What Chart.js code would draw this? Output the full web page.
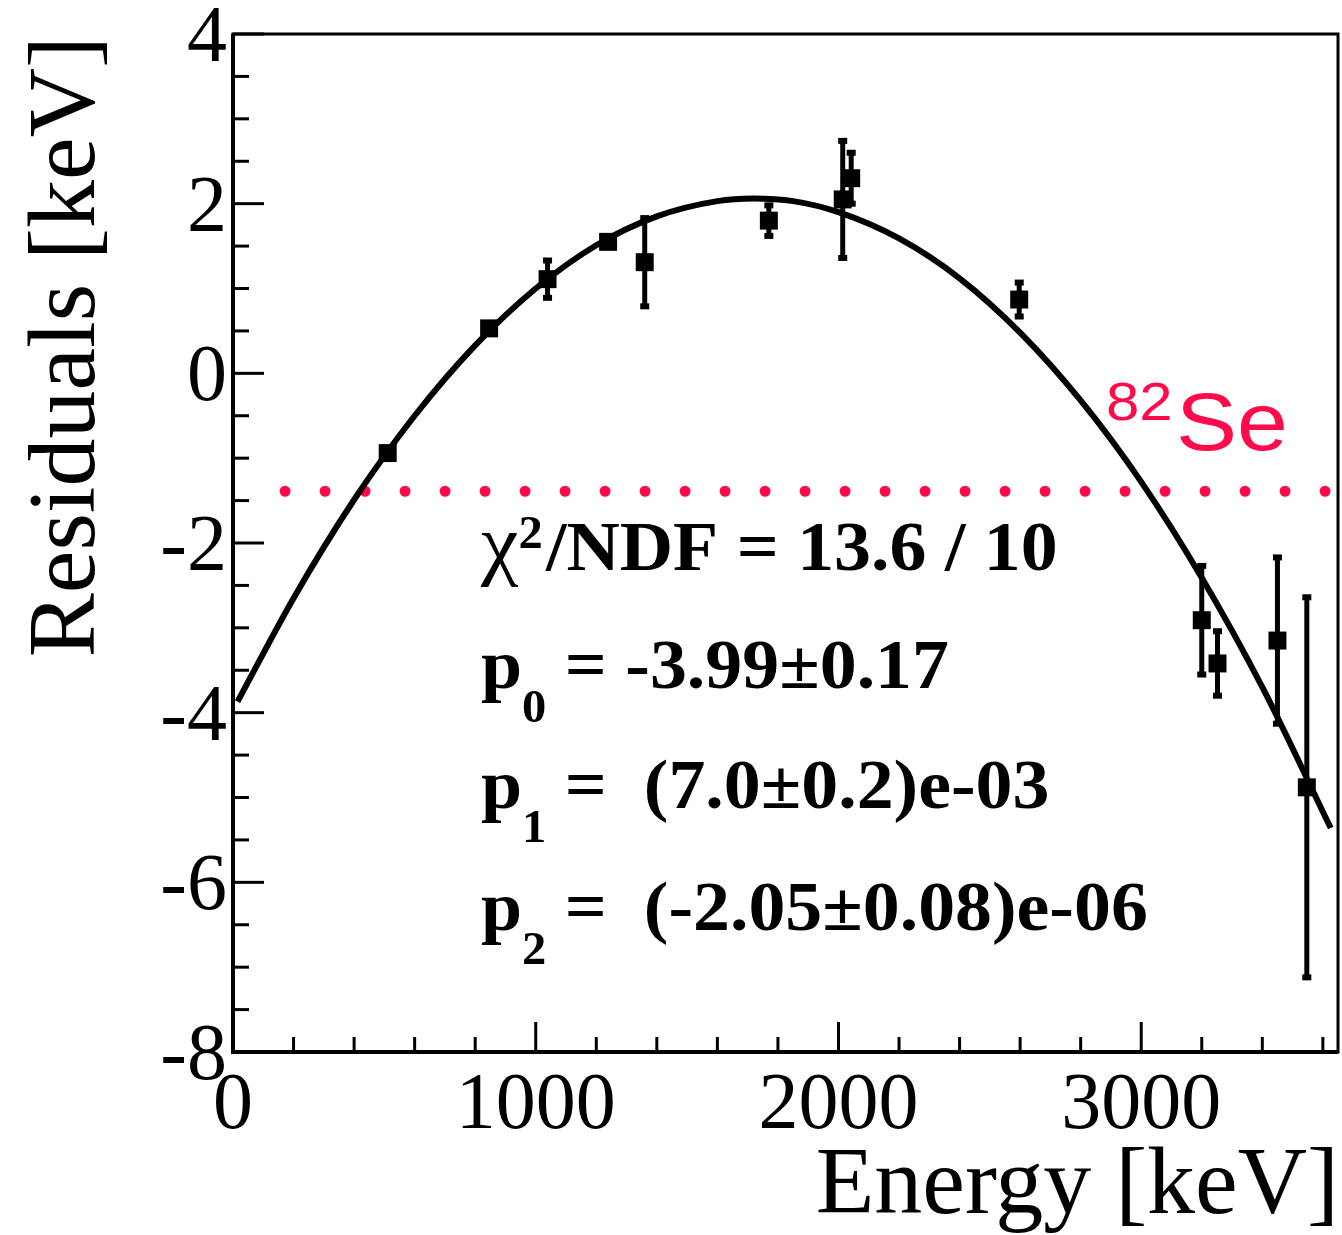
<!DOCTYPE html>
<html>
<head>
<meta charset="utf-8">
<script src="https://cdn.jsdelivr.net/npm/chart.js@4.4.0/dist/chart.umd.min.js"></script>
<style>
  body { margin: 0; background: #ffffff; }
  canvas { display: block; }
</style>
</head>
<body>
<canvas id="residualChart" width="1342" height="1235"></canvas>
<script>
// measured calibration points (keV) and their residuals
const energy = [511, 846, 1039, 1239, 1360, 1770, 2014, 2042, 2597, 3200, 3252, 3450, 3547];
const residual = [-0.94, 0.53, 1.11, 1.55, 1.31, 1.80, 2.05, 2.30, 0.87, -2.91, -3.42, -3.15, -4.88];
const residualErr = [0.05, 0.05, 0.22, 0.05, 0.52, 0.18, 0.69, 0.30, 0.20, 0.64, 0.38, 0.98, 2.24];

// fitted curve
const fitEnergy = [15, 200, 400, 600, 800, 1000, 1200, 1400, 1600, 1720, 1850, 2000, 2200, 2400, 2600, 2800, 3000, 3200, 3400, 3626];
const fitResidual = [-3.87, -2.65, -1.49, -0.50, 0.33, 1.00, 1.51, 1.85, 2.03, 2.06, 2.03, 1.90, 1.59, 1.12, 0.48, -0.32, -1.28, -2.41, -3.70, -5.36];

// 82Se Q-value marker line
const qLineEnergy = [172, 3610];
const qLineResidual = [-1.39, -1.39];

// axes
const xTicks = [0, 1000, 2000, 3000];
const yTicks = [4, 2, 0, -2, -4, -6, -8];

const fitText = [
    ['χ', '2', '/NDF = 13.6 / 10', 'sup'],
    ['p', '0', ' = -3.99±0.17', 'sub'],
    ['p', '1', ' =  (7.0±0.2)e-03', 'sub'],
    ['p', '2', ' =  (-2.05±0.08)e-06', 'sub']
];

const serif = '"Liberation Serif", "Times New Roman", serif';
const sans = '"Liberation Sans", Arial, sans-serif';
const seRed = '#ff0a4b';

function toXY(xs, ys) {
    return xs.map((x, i) => ({ x: x, y: ys[i] }));
}

const rootFrame = {
    id: 'rootFrame',
    beforeDatasetsDraw(chart) {
        const ctx = chart.ctx;
        const xs = chart.scales.x, ys = chart.scales.y;
        ctx.save();
        ctx.strokeStyle = '#000';
        ctx.fillStyle = '#000';
        ctx.lineWidth = 5;
        energy.forEach((e, i) => {
            const px = xs.getPixelForValue(e);
            const top = ys.getPixelForValue(residual[i] + residualErr[i]);
            const bot = ys.getPixelForValue(residual[i] - residualErr[i]);
            ctx.beginPath();
            ctx.moveTo(px, top);
            ctx.lineTo(px, bot);
            ctx.stroke();
            ctx.fillRect(px - 4.5, top - 3, 9, 6);
            ctx.fillRect(px - 4.5, bot - 3, 9, 6);
        });
        ctx.restore();
    },
    afterDraw(chart) {
        const ctx = chart.ctx;
        const xs = chart.scales.x, ys = chart.scales.y;
        const a = chart.chartArea;
        ctx.save();
        ctx.strokeStyle = '#000';
        ctx.fillStyle = '#000';

        // frame
        ctx.lineWidth = 3;
        ctx.strokeRect(a.left, a.top, a.right - a.left, a.bottom - a.top);
        ctx.lineWidth = 4;
        ctx.beginPath();
        ctx.moveTo(a.left, a.top);
        ctx.lineTo(a.left, a.bottom);
        ctx.lineTo(a.right, a.bottom);
        ctx.stroke();

        // y ticks (inside)
        ctx.lineWidth = 3;
        for (let v = -8; v <= 4.001; v += 0.5) {
            const py = ys.getPixelForValue(v);
            const major = Math.abs(v / 2 - Math.round(v / 2)) < 1e-6;
            ctx.beginPath();
            ctx.moveTo(a.left, py);
            ctx.lineTo(a.left + (major ? 31 : 16), py);
            ctx.stroke();
        }
        // x ticks (inside)
        for (let v = 0; v <= 3650; v += 200) {
            const px = xs.getPixelForValue(v);
            const major = v % 1000 === 0;
            ctx.beginPath();
            ctx.moveTo(px, a.bottom);
            ctx.lineTo(px, a.bottom - (major ? 30 : 15));
            ctx.stroke();
        }

        // tick labels
        ctx.font = '80px ' + serif;
        ctx.textBaseline = 'alphabetic';
        ctx.textAlign = 'right';
        yTicks.forEach(v => {
            ctx.fillText(String(v), a.left - 6, ys.getPixelForValue(v) + 27);
        });
        ctx.textAlign = 'center';
        xTicks.forEach(v => {
            ctx.fillText(String(v), xs.getPixelForValue(v), 1128);
        });

        // axis titles
        ctx.font = '96px ' + serif;
        ctx.textAlign = 'right';
        ctx.fillText('Energy [keV]', a.right + 1, 1213);
        ctx.save();
        ctx.translate(94, a.top + 2);
        ctx.rotate(-Math.PI / 2);
        ctx.fillText('Residuals [keV]', 0, 0);
        ctx.restore();

        // fit result box (ROOT text is slightly wider than Liberation)
        ctx.textAlign = 'left';
        const baselines = [570, 688, 808, 930];
        fitText.forEach((row, i) => {
            ctx.save();
            ctx.translate(481, baselines[i]);
            ctx.scale(1.055, 1);
            let x = 0;
            ctx.font = (row[3] === 'sup' ? '80px ' : 'bold 70px ') + serif;
            ctx.fillText(row[0], x, 0);
            x += ctx.measureText(row[0]).width;
            ctx.font = 'bold 46px ' + serif;
            ctx.fillText(row[1], x, row[3] === 'sup' ? -22 : 34);
            x += ctx.measureText(row[1]).width + (row[3] === 'sup' ? 3 : 0);
            ctx.font = 'bold 70px ' + serif;
            ctx.fillText(row[2], x, 0);
            ctx.restore();
        });

        // 82Se label
        ctx.fillStyle = seRed;
        ctx.save();
        ctx.translate(1106, 0);
        ctx.scale(1.13, 1);
        ctx.font = '53px ' + sans;
        ctx.fillText('82', 0, 420);
        const w = ctx.measureText('82').width;
        ctx.font = '81px ' + sans;
        ctx.fillText('Se', w + 3, 450);
        ctx.restore();
        ctx.restore();
    }
};

const ctx = document.getElementById('residualChart').getContext('2d');
const residualChart = new Chart(ctx, {
    type: 'scatter',
    data: {
        datasets: [{
            label: 'Residuals',
            data: toXY(energy, residual),
            pointStyle: 'rect',
            pointRadius: 12.7,
            backgroundColor: '#000',
            borderWidth: 0
        }, {
            label: 'pol2 fit',
            type: 'line',
            data: toXY(fitEnergy, fitResidual),
            borderColor: '#000',
            borderWidth: 6,
            pointRadius: 0,
            fill: false,
            cubicInterpolationMode: 'monotone'
        }, {
            label: '82Se',
            type: 'line',
            data: toXY(qLineEnergy, qLineResidual),
            borderColor: seRed,
            borderWidth: 11,
            borderDash: [0, 40],
            borderCapStyle: 'round',
            pointRadius: 0,
            fill: false
        }]
    },
    options: {
        responsive: false,
        animation: false,
        layout: { autoPadding: false, padding: { left: 233, right: 4, top: 34, bottom: 183 } },
        scales: {
            x: { type: 'linear', min: 0, max: 3650, display: false },
            y: { type: 'linear', min: -8, max: 4, display: false }
        },
        plugins: {
            legend: { display: false },
            tooltip: { enabled: false }
        }
    },
    plugins: [rootFrame]
});
</script>
</body>
</html>
